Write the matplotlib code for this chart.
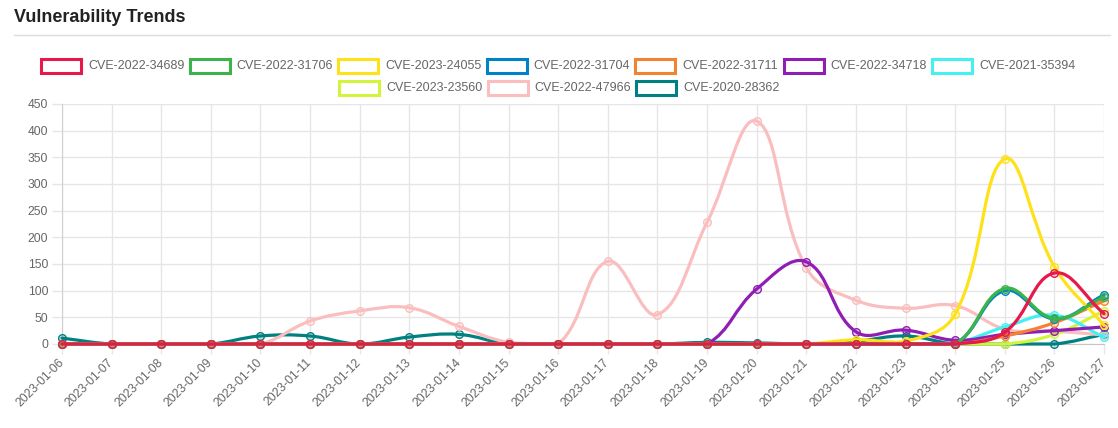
import matplotlib
matplotlib.use('Agg')
import matplotlib.pyplot as plt
from matplotlib.path import Path
from matplotlib.patches import PathPatch, Rectangle
from matplotlib.lines import Line2D
import numpy as np

plt.rcParams['font.family'] = ['Liberation Sans', 'DejaVu Sans']

# Daily counts per CVE

dates = ['2023-01-06', '2023-01-07', '2023-01-08', '2023-01-09', '2023-01-10', '2023-01-11',
         '2023-01-12', '2023-01-13', '2023-01-14', '2023-01-15', '2023-01-16', '2023-01-17',
         '2023-01-18', '2023-01-19', '2023-01-20', '2023-01-21', '2023-01-22', '2023-01-23',
         '2023-01-24', '2023-01-25', '2023-01-26', '2023-01-27']

cve_2022_34689 = [0, 0, 0, 0, 0, 0, 0, 0, 0, 0, 0, 0, 0, 0, 0, 0, 0, 0, 0, 22, 133, 57]
cve_2022_31706 = [0, 0, 0, 0, 0, 0, 0, 0, 0, 0, 0, 0, 0, 0, 0, 0, 0, 0, 0, 104, 48, 88]
cve_2023_24055 = [0, 0, 0, 0, 0, 0, 0, 0, 0, 0, 0, 0, 0, 0, 0, 0, 8, 5, 56, 347, 145, 35]
cve_2022_31704 = [0, 0, 0, 0, 0, 0, 0, 0, 0, 0, 0, 0, 0, 0, 0, 0, 0, 0, 0, 100, 47, 92]
cve_2022_31711 = [0, 0, 0, 0, 0, 0, 0, 0, 0, 0, 0, 0, 0, 0, 0, 0, 0, 0, 0, 15, 40, 81]
cve_2022_34718 = [0, 0, 0, 0, 0, 0, 0, 0, 0, 0, 0, 0, 0, 0, 103, 154, 23, 26, 7, 18, 25, 32]
cve_2021_35394 = [0, 0, 0, 0, 0, 0, 0, 0, 0, 0, 0, 0, 0, 0, 0, 0, 0, 0, 2, 32, 54, 13]
cve_2023_23560 = [0, 0, 0, 0, 0, 0, 0, 0, 0, 0, 0, 0, 0, 0, 0, 0, 0, 0, 0, 0, 18, 62]
cve_2022_47966 = [0, 0, 0, 0, 0, 43, 62, 68, 33, 3, 0, 155, 55, 228, 418, 143, 82, 67, 72, 28, 24, 17]
cve_2020_28362 = [11, 0, 0, 0, 15, 15, 0, 13, 18, 0, 0, 0, 0, 3, 2, 0, 5, 15, 0, 0, 0, 18]

datasets = [
    ('CVE-2022-34689', cve_2022_34689, '#e6194b'),
    ('CVE-2022-31706', cve_2022_31706, '#3cb44b'),
    ('CVE-2023-24055', cve_2023_24055, '#ffe119'),
    ('CVE-2022-31704', cve_2022_31704, '#0082c8'),
    ('CVE-2022-31711', cve_2022_31711, '#f58231'),
    ('CVE-2022-34718', cve_2022_34718, '#911eb4'),
    ('CVE-2021-35394', cve_2021_35394, '#46f0f0'),
    ('CVE-2023-23560', cve_2023_23560, '#d2f53c'),
    ('CVE-2022-47966', cve_2022_47966, '#fabebe'),
    ('CVE-2020-28362', cve_2020_28362, '#008080'),
]

W, H = 1118, 428
fig = plt.figure(figsize=(W / 100, H / 100), dpi=100)
ax = fig.add_axes([62 / W, 1 - 344 / H, 1042 / W, 240 / H])

xs = np.arange(len(dates))
ax.set_xlim(0, len(dates) - 1)
ax.set_ylim(0, 450)
ax.set_yticks(range(0, 451, 50))
ax.set_xticks(xs)
ax.set_xticklabels(dates, rotation=45, ha='right', va='center', rotation_mode='anchor')

ax.grid(True, color='#e6e6e6', linewidth=1)
ax.set_axisbelow(True)
for s in ['top', 'right']:
    ax.spines[s].set_visible(False)
ax.spines['left'].set_color('#cfcfcf')
ax.spines['bottom'].set_color('#c4c4c4')
ax.tick_params(axis='both', length=7, width=1, color='#e6e6e6', labelcolor='#666666',
               labelsize=8.7, pad=3)
ax.tick_params(axis='x', pad=5)


def spline_path(ax, xv, yv, tension=0.4):
    # Chart.js style cubic spline, computed in pixel space
    pts = ax.transData.transform(np.column_stack([xv, yv]).astype(float))
    bb = ax.bbox
    n = len(pts)
    ctrl = []
    for i in range(n):
        cur = pts[i]
        prev = pts[i - 1] if i > 0 else cur
        nxt = pts[i + 1] if i < n - 1 else cur
        d01 = np.hypot(*(cur - prev))
        d12 = np.hypot(*(nxt - cur))
        tot = d01 + d12
        s01 = d01 / tot if tot else 0
        s12 = d12 / tot if tot else 0
        cp = cur - tension * s01 * (nxt - prev)
        cn = cur + tension * s12 * (nxt - prev)
        for c in (cp, cn):
            c[0] = min(max(c[0], bb.x0), bb.x1)
            c[1] = min(max(c[1], bb.y0), bb.y1)
        ctrl.append((cp, cn))
    verts = [pts[0]]
    codes = [Path.MOVETO]
    for i in range(n - 1):
        verts += [ctrl[i][1], ctrl[i + 1][0], pts[i + 1]]
        codes += [Path.CURVE4] * 3
    verts = ax.transData.inverted().transform(np.array(verts))
    return Path(verts, codes)


n_ds = len(datasets)
for k, (name, vals, color) in enumerate(datasets):
    z = 10 + (n_ds - k) * 2
    path = spline_path(ax, xs, vals)
    ax.add_patch(PathPatch(path, facecolor='none', edgecolor=color, linewidth=2.3,
                           zorder=z, clip_on=False, capstyle='round', joinstyle='round'))
    ax.plot(xs, vals, linestyle='none', marker='o', markersize=5.5,
            markerfacecolor=matplotlib.colors.to_rgba(color, 0.15),
            markeredgecolor=color, markeredgewidth=1.0, zorder=z + 1, clip_on=False)

# Title and rule
fig.text(14 / W, 1 - 18 / H, 'Vulnerability Trends', fontsize=13, fontweight='bold',
         color='#222222', ha='left', va='center')
fig.add_artist(Line2D([14 / W, 1110 / W], [1 - 34.5 / H, 1 - 34.5 / H],
                      color='#dddddd', linewidth=1))

# Legend (Chart.js style, centered rows)
rows = [(0, 7, 41, 66), (7, 10, 339, 88)]
step = 148.5
for start, stop, x0, yc in rows:
    for j, idx in enumerate(range(start, stop)):
        name, vals, color = datasets[idx]
        bx = x0 + j * step
        fig.add_artist(Rectangle((bx / W, 1 - (yc + 6.5) / H), 40 / W, 13 / H,
                                 facecolor='white', edgecolor=color, linewidth=2.2,
                                 transform=fig.transFigure))
        fig.text((bx + 47) / W, 1 - yc / H, name, fontsize=9, color='#666666',
                 ha='left', va='center')

fig.savefig('out.png', dpi=100)
